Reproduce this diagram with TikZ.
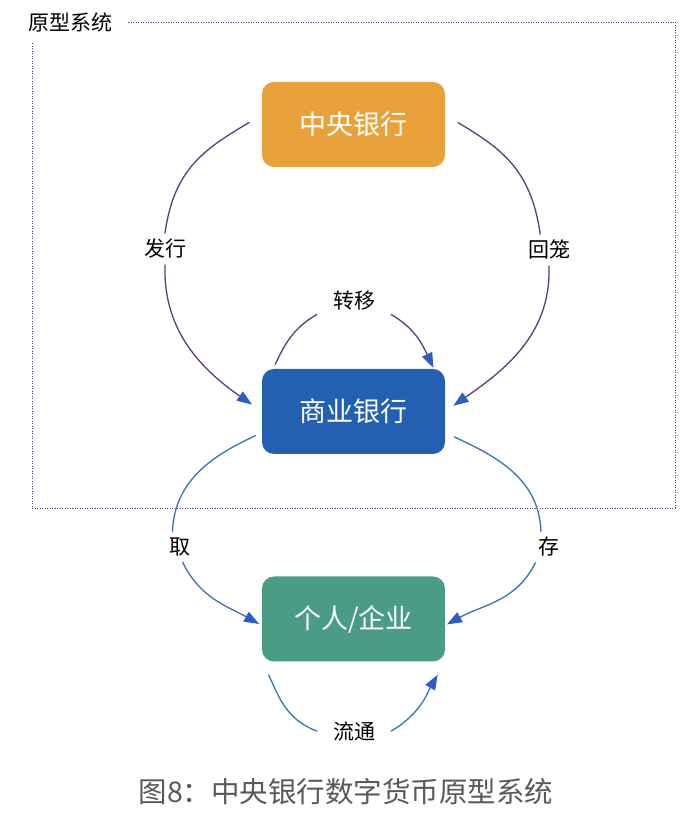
\documentclass[tikz,border=0pt]{standalone}
\usepackage{fontspec}
\setmainfont{Noto Sans CJK SC}
\usetikzlibrary{arrows.meta}
\definecolor{cbOrange}{HTML}{E9A23B}
\definecolor{commBlue}{HTML}{2360B2}
\definecolor{peGreen}{HTML}{4A9C84}
\definecolor{arcPurple}{HTML}{5E3A7E}
\definecolor{arcBlue}{HTML}{3A72B5}
\definecolor{tipBlue}{HTML}{2D5CC4}
\definecolor{frameBlue}{HTML}{4B3F8A}
\begin{document}
\begin{tikzpicture}[x=1pt,y=1pt,line join=round,line cap=round,
	bank/.style={rounded corners=12pt,minimum width=183pt,minimum height=85pt,text=white,font=\fontsize{27}{27}\selectfont,inner sep=0pt},
	lbl/.style={font=\fontsize{21}{21}\selectfont,inner xsep=3pt,inner ysep=6pt},
	midlbl/.style={lbl,inner xsep=16pt,inner ysep=4pt},
	upper/.style={draw=arcPurple,line width=1.3pt},
	lower/.style={draw=arcBlue,line width=1.3pt},
	tip/.style={-{Triangle[length=15pt,width=11pt,color=tipBlue]}},
	frame/.style={draw=frameBlue,line width=0.9pt,dash pattern=on 0.9pt off 1.6pt,line cap=butt}]
	\useasboundingbox (0,0) rectangle (696,822);
	% boxes
	\node[bank,fill=cbOrange] (cb) at (353.5,697.5) {中央银行};
	\node[bank,fill=commBlue] (comm) at (353.5,410.5) {商业银行};
	\node[bank,fill=peGreen] (pe) at (353.5,203) {个人/企业};
	% labels
	\node[lbl] (fx) at (165,573) {发行};
	\node[lbl] (hl) at (549,572) {回笼};
	\node[midlbl] (zy) at (354,521) {转移};
	\node[lbl] (qu) at (180,275) {取};
	\node[lbl] (cun) at (549,275) {存};
	\node[midlbl] (lt) at (354,91) {流通};
	% frame
	\node[lbl] (title) at (70.5,800) {原型系统};
	\draw[frame] (128,800) -- (675,800) -- (675,314) -- (32,314) -- (32,780);
	% issue / return
	\draw[upper,shorten <=15pt] (cb.174) to[out=211,in=82,looseness=1.1] (fx.north);
	\draw[upper,tip,shorten >=12pt] (fx.south) to[out=268,in=145] (comm.west);
	\draw[upper,shorten <=15pt] (cb.6) to[out=-31,in=98,looseness=1.1] (hl.119);
	\draw[upper,tip,shorten >=10pt] (hl.south) to[out=-88,in=35] (comm.east);
	% transfer
	\draw[upper,shorten <=5pt] (comm.152) to[out=65,in=210] (zy.-160);
	\draw[upper,tip,shorten >=1pt] (zy.-20) to[out=-30,in=115] (comm.28);
	% withdraw / deposit
	\draw[lower,shorten <=7pt] (comm.193) to[out=205,in=88] (qu.116);
	\draw[lower,tip,shorten >=3pt] (qu.-80) to[out=-64,in=151] (pe.184);
	\draw[lower,shorten <=10pt] (comm.-13) to[out=-25,in=92] (cun.117);
	\draw[lower,tip,shorten >=2pt] (cun.south west) to[out=-116,in=29] (pe.-4);
	% circulation
	\draw[lower,shorten <=15pt] (pe.south west) to[out=-63,in=160] (lt.west);
	\draw[lower,tip,shorten >=15pt] (lt.east) to[out=30,in=240] (pe.south east);
	% caption
	\node[font=\fontsize{28.5}{28.5}\selectfont,text=black!65] (cap) at (346,30) {图8：中央银行数字货币原型系统};
\end{tikzpicture}
\end{document}
